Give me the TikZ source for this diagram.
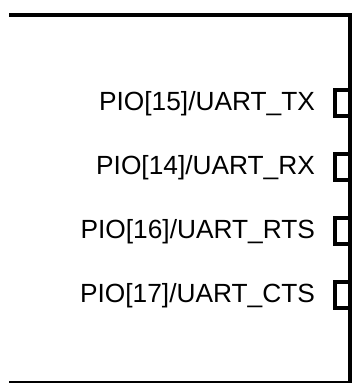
\documentclass[tikz,border=0pt]{standalone}
\usepackage{fontspec}
\setmainfont{Liberation Sans}
\usetikzlibrary{positioning}
\tikzset{
	pinbox/.style = {draw, line width = 0.2cm, fill = white, minimum width = 0.75cm, minimum height = 1.3cm, inner sep = 0},
	pinlabel/.style = {inner sep = 0, font = \fontsize{37.4pt}{44pt}\selectfont}
}
\begin{document}
\begin{tikzpicture}
		\useasboundingbox (0,0) rectangle (17.8,19.15);
		% open edge of the block
		\draw[line width = 0.2cm] (0.45,18.4) -- (17.5,18.4) -- (17.5,0) -- (0.45,0);
		% UART pins on the right side
		\node[pinbox] (tx) at (17.125,13.975) {};
		\node[pinbox] (rx) at (17.125,10.775) {};
		\node[pinbox] (rts) at (17.125,7.575) {};
		\node[pinbox] (cts) at (17.125,4.375) {};
		\node[pinlabel, left = 0.9cm of tx] (txlabel) {PIO[15]/UART\_TX};
		\node[pinlabel, left = 0.9cm of rx] (rxlabel) {PIO[14]/UART\_RX};
		\node[pinlabel, left = 0.9cm of rts] (rtslabel) {PIO[16]/UART\_RTS};
		\node[pinlabel, left = 0.9cm of cts] (ctslabel) {PIO[17]/UART\_CTS};
		\end{tikzpicture}
\end{document}
